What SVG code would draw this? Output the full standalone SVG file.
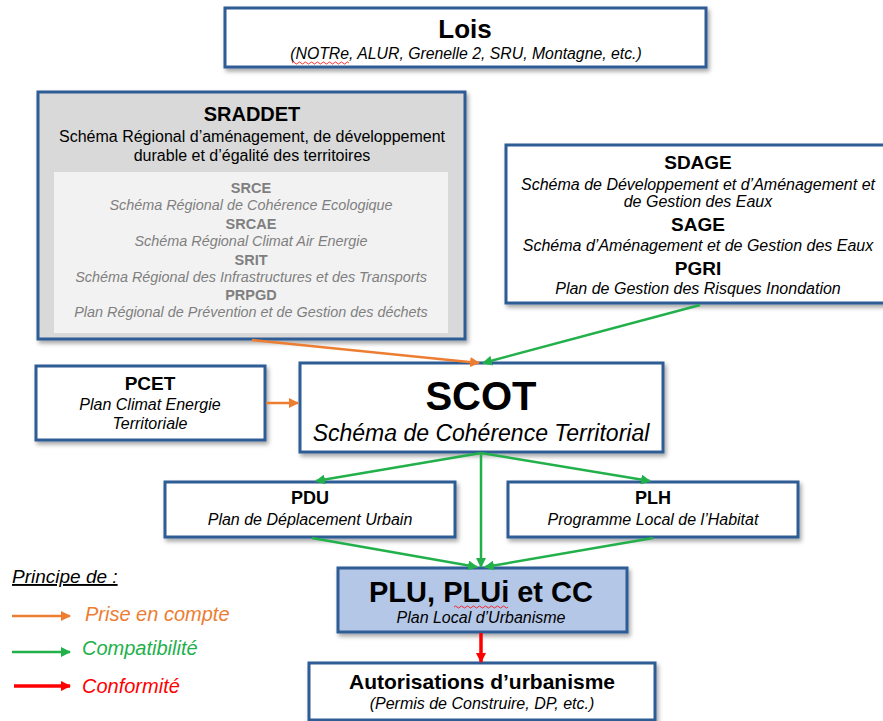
<svg xmlns="http://www.w3.org/2000/svg" width="883" height="721" viewBox="0 0 883 721">
<defs>
<filter id="sh" x="-5%" y="-5%" width="115%" height="125%">
<feDropShadow dx="2" dy="3" stdDeviation="2" flood-color="#000" flood-opacity="0.35"/>
</filter>
<marker id="ao" viewBox="0 0 10 10" refX="9" refY="5" markerWidth="4" markerHeight="4" orient="auto" markerUnits="strokeWidth"><path d="M0,0 L10,5 L0,10 z" fill="#ed7d31"/></marker>
<marker id="ag" viewBox="0 0 10 10" refX="9" refY="5" markerWidth="4" markerHeight="4" orient="auto" markerUnits="strokeWidth"><path d="M0,0 L10,5 L0,10 z" fill="#22b04b"/></marker>
<marker id="ar" viewBox="0 0 10 10" refX="9" refY="5" markerWidth="3" markerHeight="3" orient="auto" markerUnits="strokeWidth"><path d="M0,0 L10,5 L0,10 z" fill="#ff0000"/></marker>
</defs>
<style>
text{font-family:"Liberation Sans",Arial,sans-serif;text-anchor:middle;fill:#000}
.box{fill:#fff;stroke:#2f5b94;stroke-width:3;filter:url(#sh)}
.b{font-weight:bold}
.i{font-style:italic}
.g{fill:#7f7f7f}
.o{stroke:#ed7d31;stroke-width:2.5;fill:none;marker-end:url(#ao)}
.gr{stroke:#22b04b;stroke-width:2.5;fill:none;marker-end:url(#ag)}
.r{stroke:#ff0000;stroke-width:3.5;fill:none;marker-end:url(#ar)}
.sq{stroke:#ff0000;stroke-width:0.8;fill:none}
.l{text-anchor:start}
</style>
<rect width="883" height="721" fill="#fff"/>

<g id="lois">
<rect class="box" x="225" y="8" width="481" height="59"/>
<text class="b" x="465" y="38" font-size="26">Lois</text>
<text class="i" x="466" y="59" font-size="15.8">(NOTRe, ALUR, Grenelle 2, SRU, Montagne, etc.)</text>
<path class="sq" d="M292,63 q1.5,-2 3,0 t3,0 t3,0 t3,0 t3,0 t3,0 t3,0 t3,0 t3,0 t3,0 t3,0 t3,0 t3,0 t3,0 t3,0 t3,0 t3,0 t3,0 t3,0"/>
</g>

<g id="sraddet">
<rect class="box" x="38" y="92" width="427" height="247" style="fill:#d9d9d9"/>
<rect x="54" y="172" width="394" height="161" fill="#f2f2f2"/>
<text class="b" x="252" y="121" font-size="20">SRADDET</text>
<text x="252" y="142" font-size="16">Schéma Régional d’aménagement, de développement</text>
<text x="252" y="161" font-size="16">durable et d’égalité des territoires</text>
<text class="b g" x="251" y="193" font-size="14.5">SRCE</text>
<text class="i g" x="251" y="210" font-size="14.4">Schéma Régional de Cohérence Ecologique</text>
<text class="b g" x="251" y="229" font-size="14.5">SRCAE</text>
<text class="i g" x="251" y="246" font-size="14.4">Schéma Régional Climat Air Energie</text>
<text class="b g" x="251" y="265" font-size="14.5">SRIT</text>
<text class="i g" x="251" y="282" font-size="14.4">Schéma Régional des Infrastructures et des Transports</text>
<text class="b g" x="251" y="300" font-size="14.5">PRPGD</text>
<text class="i g" x="251" y="317" font-size="14.4">Plan Régional de Prévention et de Gestion des déchets</text>
</g>

<g id="sdage">
<rect class="box" x="506" y="145" width="390" height="158"/>
<text class="b" x="698" y="169" font-size="19">SDAGE</text>
<text class="i" x="698" y="190" font-size="16">Schéma de Développement et d’Aménagement et</text>
<text class="i" x="698" y="207" font-size="16">de Gestion des Eaux</text>
<text class="b" x="698" y="231" font-size="19">SAGE</text>
<text class="i" x="698" y="251" font-size="16">Schéma d’Aménagement et de Gestion des Eaux</text>
<text class="b" x="698" y="275" font-size="19">PGRI</text>
<text class="i" x="698" y="294" font-size="16">Plan de Gestion des Risques Inondation</text>
</g>

<g id="pcet">
<rect class="box" x="36" y="366" width="229" height="74"/>
<text class="b" x="150" y="390" font-size="19">PCET</text>
<text class="i" x="150" y="410" font-size="16">Plan Climat Energie</text>
<text class="i" x="150" y="429" font-size="16">Territoriale</text>
</g>

<g id="scot">
<rect class="box" x="300" y="363" width="363" height="89"/>
<text class="b" x="481" y="410" font-size="40">SCOT</text>
<text class="i" x="481" y="441" font-size="23">Schéma de Cohérence Territorial</text>
</g>

<g id="pdu">
<rect class="box" x="165" y="482" width="290" height="55"/>
<text class="b" x="310" y="504" font-size="18">PDU</text>
<text class="i" x="310" y="525" font-size="16">Plan de Déplacement Urbain</text>
</g>

<g id="plh">
<rect class="box" x="508" y="482" width="290" height="55"/>
<text class="b" x="653" y="504" font-size="18">PLH</text>
<text class="i" x="653" y="525" font-size="16">Programme Local de l’Habitat</text>
</g>

<g id="plu">
<rect class="box" x="338" y="568" width="289" height="64" style="fill:#b4c7e7"/>
<text class="b" x="481" y="602" font-size="29">PLU, PLUi et CC</text>
<text class="i" x="481" y="623" font-size="16">Plan Local d’Urbanisme</text>
<path class="sq" d="M454,607 q1.5,-2 3,0 t3,0 t3,0 t3,0 t3,0 t3,0 t3,0 t3,0 t3,0 t3,0 t3,0 t3,0 t3,0 t3,0 t3,0 t3,0 t3,0 t3,0"/>
</g>

<g id="autorisations">
<rect class="box" x="309" y="663" width="346" height="57"/>
<text class="b" x="482" y="689" font-size="21">Autorisations d’urbanisme</text>
<text class="i" x="482" y="709" font-size="16">(Permis de Construire, DP, etc.)</text>
</g>

<g id="connectors">
<line class="o" x1="252" y1="340" x2="479" y2="363"/>
<line class="gr" x1="700" y1="305" x2="483" y2="363"/>
<line class="o" x1="266" y1="403" x2="298" y2="403"/>
<line class="gr" x1="481" y1="453" x2="316" y2="481"/>
<line class="gr" x1="481" y1="453" x2="650" y2="481"/>
<line class="gr" x1="481" y1="453" x2="481" y2="567"/>
<line class="gr" x1="312" y1="538" x2="477" y2="567"/>
<line class="gr" x1="653" y1="538" x2="485" y2="567"/>
<line class="r" x1="481" y1="633" x2="481" y2="662"/>
</g>

<g id="legend">
<text class="i l" x="12" y="583" font-size="19" style="text-decoration:underline">Principe de :</text>
<line class="o" x1="12" y1="616" x2="70" y2="616"/>
<text class="i l" x="85" y="621" font-size="20" style="fill:#ed7d31">Prise en compte</text>
<line class="gr" x1="12" y1="652" x2="70" y2="652"/>
<text class="i l" x="82" y="655" font-size="20" style="fill:#22b04b">Compatibilité</text>
<line class="r" x1="14" y1="686" x2="70" y2="686"/>
<text class="i l" x="82" y="693" font-size="20" style="fill:#ff0000">Conformité</text>
</g>
</svg>
